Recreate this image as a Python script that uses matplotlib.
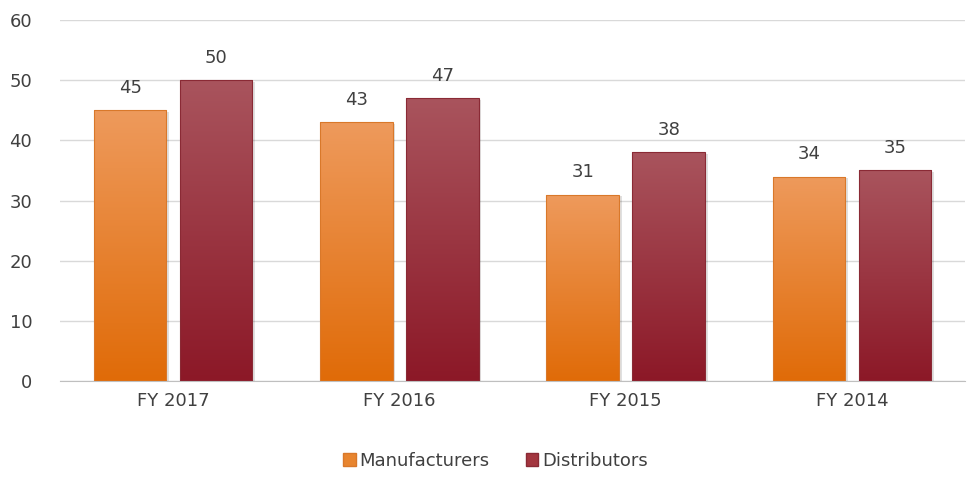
import numpy as np
import matplotlib.pyplot as plt
import matplotlib.colors as mcolors
from matplotlib.patches import Rectangle

years = ['FY 2017', 'FY 2016', 'FY 2015', 'FY 2014']
manufacturers = [45, 43, 31, 34]
distributors = [50, 47, 38, 35]

orange_top, orange_bot = '#EE9A5C', '#E06B08'
red_top, red_bot = '#A9545D', '#8C1827'
text_col = '#404040'

plt.rcParams['font.family'] = ['DejaVu Sans']

fig = plt.figure(figsize=(9.68, 4.91), dpi=100)
ax = fig.add_axes([0.062, 0.224, 0.935, 0.735])

x = np.arange(len(years))
w = 0.32
off = 0.19


def gradient_bars(xs, vals, top, bot, edge):
    bars = ax.bar(xs, vals, width=w, color='none', edgecolor=edge, linewidth=0.8, zorder=3)
    cmap = mcolors.LinearSegmentedColormap.from_list('g', [bot, top])
    grad = np.linspace(0, 1, 256).reshape(-1, 1)
    for b in bars:
        bx, by = b.get_x(), b.get_y()
        bw, bh = b.get_width(), b.get_height()
        # soft shadow
        ax.add_patch(Rectangle((bx + 0.012, by), bw, bh - 0.3, facecolor='#000000',
                               alpha=0.12, edgecolor='none', zorder=2))
        im = ax.imshow(grad, cmap=cmap, origin='lower', aspect='auto',
                       extent=(bx, bx + bw, by, by + bh), zorder=2.5)
        im.set_clip_path(b)
    return bars


b1 = gradient_bars(x - off, manufacturers, orange_top, orange_bot, '#D9782A')
b2 = gradient_bars(x + off, distributors, red_top, red_bot, '#8A2A35')

for xs, vals in ((x - off, manufacturers), (x + off, distributors)):
    for xi, v in zip(xs, vals):
        ax.text(xi, v + 2.2, str(v), ha='center', va='bottom', fontsize=13, color=text_col)

ax.set_xlim(-0.5, 3.5)
ax.set_ylim(0, 60)
ax.set_yticks(range(0, 61, 10))
ax.set_xticks(x)
ax.set_xticklabels(years)
ax.tick_params(axis='both', length=0, labelsize=13, colors=text_col)
ax.tick_params(axis='y', pad=20)
ax.tick_params(axis='x', pad=8)
ax.grid(axis='y', color='#D9D9D9', linewidth=1, zorder=0)
ax.set_axisbelow(True)
for s in ['top', 'right', 'left']:
    ax.spines[s].set_visible(False)
ax.spines['bottom'].set_color('#BFBFBF')

handles = [Rectangle((0, 0), 1, 1, facecolor='#E8852F', edgecolor='#D9782A'),
           Rectangle((0, 0), 1, 1, facecolor='#A3363F', edgecolor='#8A2A35')]
leg = fig.legend(handles, ['Manufacturers', 'Distributors'], loc='center',
                 bbox_to_anchor=(0.512, 0.062), ncol=2, frameon=False, fontsize=13,
                 handlelength=0.7, handleheight=0.7, handletextpad=0.2, columnspacing=2.0)
for t in leg.get_texts():
    t.set_color(text_col)

fig.savefig('out.png', dpi=100)
